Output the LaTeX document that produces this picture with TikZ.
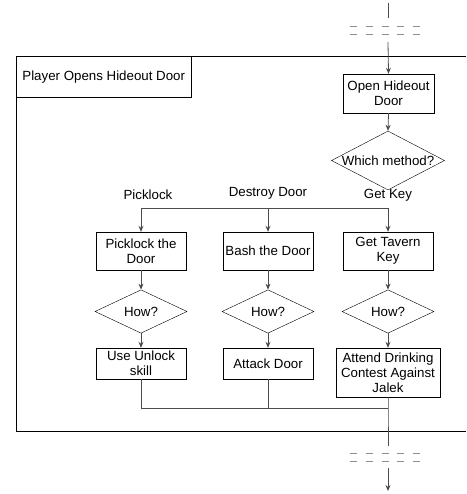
\documentclass[tikz,border=0pt]{standalone}
\usepackage{fontspec}
\setmainfont{Liberation Sans}
\usetikzlibrary{positioning,shapes.geometric,arrows.meta}

\tikzset{
  stepbox/.style={rectangle, draw=black, fill=white, align=center, inner sep=1pt, minimum width=90pt, minimum height=38pt},
  choice/.style={diamond, draw=black, fill=white, inner sep=0pt, minimum width=92pt, minimum height=30pt},
  flow/.style={draw=black!70, line width=0.8pt, -{Stealth[length=6pt,width=5pt,inset=2pt]}},
  link/.style={draw=black!70, line width=0.8pt},
  gapmark/.style={draw=black!45, line width=0.9pt},
}

\begin{document}
\begin{tikzpicture}[x=1pt, y=-1pt, font=\fontsize{13.3}{15}\selectfont]
        \useasboundingbox (0,0) rectangle (466,494);

        % frame of the scene
        \draw[black, line width=0.8pt] (466,56) -- (16,56) -- (16,431) -- (466,431);
        \node[rectangle, draw=black, line width=0.8pt, anchor=north west, minimum width=174pt, minimum height=41pt, inner xsep=6pt] (title) at (16,56) {Player Opens Hideout Door};

        \node[stepbox, minimum width=91pt, minimum height=39pt] (open) at (388.5,93.5) {Open Hideout\\Door};
        \node[choice, minimum width=113pt, minimum height=59pt] (method) at (388,160.5) {\makebox[0pt]{Which method?}};

        \node (lpick) at (148,195) {Picklock};
        \node (ldestroy) at (268,193) {Destroy Door};
        \node (lkey) at (388,195) {Get Key};

        \node[stepbox] (pick) at (141,251) {Picklock the\\Door};
        \node[stepbox] (bash) at (268,251) {Bash the Door};
        \node[stepbox] (tavern) at (388,251) {Get Tavern\\Key};

        \node[choice] (howpick) at (141,311.5) {How?};
        \node[choice] (howbash) at (268,311.5) {How?};
        \node[choice] (howkey) at (388,311.5) {How?};

        \node[stepbox, minimum height=31pt] (unlock) at (141,363.5) {Use Unlock\\skill};
        \node[stepbox, minimum height=31pt] (attack) at (268,363.5) {Attack Door};
        \node[stepbox, minimum width=104pt, minimum height=49pt] (attend) at (388,372.5) {Attend Drinking\\Contest Against\\Jalek};

        \coordinate (topin) at (388,3);
        \coordinate (topcut) at (388,18);
        \coordinate (topback) at (388,42);
        \coordinate (split) at (388,208);
        \coordinate (merge) at (388,408);
        \coordinate (botcut) at (388,446);
        \coordinate (botback) at (388,468);
        \coordinate (botout) at (388,491);

        % break marks
        \foreach \px in {350,366,382,397,413} {
            \draw[gapmark] (\px,26) -- ++(7,0);
            \draw[gapmark] (\px,34) -- ++(7,0);
            \draw[gapmark] (\px,453) -- ++(7,0);
            \draw[gapmark] (\px,461) -- ++(7,0);
        }

        \draw[link] (topin) -- (topcut);
        \draw[flow] (topback) -- (open.north);
        \draw[flow] (open.south) -- (method.north);

        \draw[flow] (split) -| (pick.north);
        \draw[flow] (split) -| (bash.north);
        \draw[flow] (split) -- (tavern.north);

        \draw[flow] (pick.south) -- (howpick.north);
        \draw[flow] (bash.south) -- (howbash.north);
        \draw[flow] (tavern.south) -- (howkey.north);
        \draw[flow] (howpick.south) -- (unlock.north);
        \draw[flow] (howbash.south) -- (attack.north);
        \draw[flow] (howkey.south) -- (attend.north);

        \draw[link] (unlock.south) |- (merge);
        \draw[link] (attack.south) |- (merge);
        \draw[link] (attend.south) -- (merge) -- (botcut);
        \draw[flow] (botback) -- (botout);
\end{tikzpicture}
\end{document}
